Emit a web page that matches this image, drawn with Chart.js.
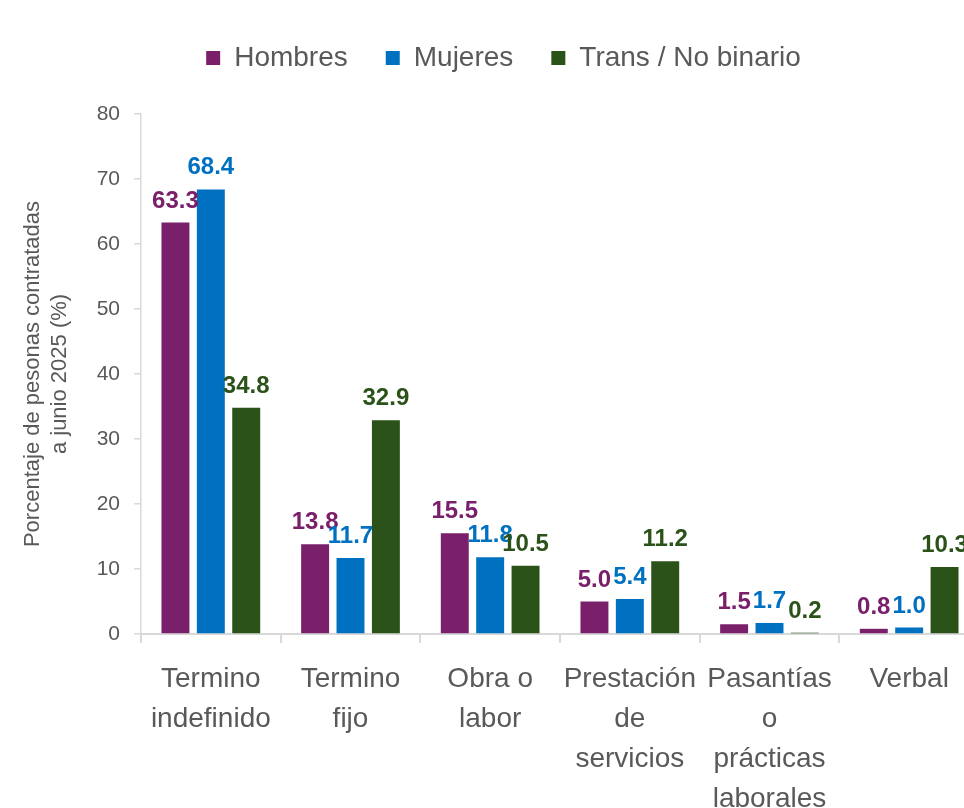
<!DOCTYPE html>
<html>
<head>
<meta charset="utf-8">
<script src="https://cdn.jsdelivr.net/npm/chart.js@4.4.1/dist/chart.umd.min.js"></script>
<style>
    html, body { margin: 0; padding: 0; background: #fff; overflow: hidden; }
    #wrap { width: 1000px; height: 808px; }
</style>
</head>
<body>
<div id="wrap"><canvas id="contractChart"></canvas></div>
<script>
// Tipo de contrato, porcentaje de personas contratadas a junio 2025
var categories = [
    ["Termino", "indefinido"],
    ["Termino", "fijo"],
    ["Obra o", "labor"],
    ["Prestación", "de", "servicios"],
    ["Pasantías", "o", "prácticas", "laborales"],
    ["Verbal"]
];
var hombres = [63.3, 13.8, 15.5, 5.0, 1.5, 0.8];
var mujeres = [68.4, 11.7, 11.8, 5.4, 1.7, 1.0];
var transNoBinario = [34.8, 32.9, 10.5, 11.2, 0.2, 10.3];
var yTicks = [0, 10, 20, 30, 40, 50, 60, 70, 80];

var FONT = "'Liberation Sans', Arial, sans-serif";
var GRAY = "#595959";
var AXIS = "#d9d9d9";

// simple value labels above each bar (no datalabels plugin available)
var valueLabels = {
    id: "valueLabels",
    afterDatasetsDraw: function (chart) {
        var ctx = chart.ctx;
        ctx.save();
        ctx.font = "bold 24px " + FONT;
        ctx.textAlign = "center";
        ctx.textBaseline = "alphabetic";
        chart.data.datasets.forEach(function (ds, i) {
            var meta = chart.getDatasetMeta(i);
            ctx.fillStyle = ds.backgroundColor;
            meta.data.forEach(function (bar, j) {
                ctx.fillText(ds.data[j].toFixed(1), bar.x, bar.y - 15);
            });
        });
        ctx.restore();
    }
};

// extra space under the legend, and nudge it a little to the right
var legendGap = {
    id: "legendGap",
    beforeInit: function (chart) {
        var fit = chart.legend.fit;
        chart.legend.fit = function () {
            fit.bind(chart.legend)();
            this.height += 32;
        };
    },
    afterLayout: function (chart) {
        chart.legend.left += 14;
        chart.legend.right += 14;
    }
};

var ctx = document.getElementById("contractChart").getContext("2d");

new Chart(ctx, {
    type: "bar",
    data: {
        labels: categories,
        datasets: [
            { label: "Hombres", data: hombres, backgroundColor: "#7a206b" },
            { label: "Mujeres", data: mujeres, backgroundColor: "#0070c0" },
            { label: "Trans / No binario", data: transNoBinario, backgroundColor: "#2b5219" }
        ]
    },
    options: {
        responsive: true,
        maintainAspectRatio: false,
        animation: false,
        datasets: {
            bar: { categoryPercentage: 0.76, barPercentage: 0.79 }
        },
        layout: { padding: { top: 6, right: 21, left: 0, bottom: 0 } },
        plugins: {
            legend: {
                position: "top",
                labels: {
                    boxWidth: 14,
                    boxHeight: 14,
                    padding: 38,
                    color: GRAY,
                    font: { family: FONT, size: 28 }
                }
            },
            tooltip: { enabled: false }
        },
        scales: {
            x: {
                afterFit: function (scale) { scale.height = 174; },
                grid: {
                    offset: true,
                    drawOnChartArea: false,
                    color: AXIS,
                    lineWidth: 2,
                    tickLength: 9
                },
                border: { color: AXIS, width: 2 },
                ticks: {
                    color: GRAY,
                    padding: 16,
                    maxRotation: 0,
                    autoSkip: false,
                    font: { family: FONT, size: 28, lineHeight: 1.43 }
                }
            },
            y: {
                min: 0,
                max: 80,
                afterFit: function (scale) { scale.width = 141; },
                afterBuildTicks: function (scale) {
                    scale.ticks = yTicks.map(function (v) { return { value: v }; });
                },
                grid: {
                    drawOnChartArea: false,
                    color: AXIS,
                    lineWidth: 1.5,
                    tickLength: 7
                },
                border: { color: AXIS, width: 1.5 },
                ticks: {
                    color: GRAY,
                    padding: 14,
                    font: { family: FONT, size: 21 }
                },
                title: {
                    display: true,
                    text: ["Porcentaje de pesonas contratadas", "a junio 2025 (%)"],
                    color: GRAY,
                    padding: { top: 19, bottom: 0 },
                    font: { family: FONT, size: 22, lineHeight: 1.23 }
                }
            }
        }
    },
    plugins: [valueLabels, legendGap]
});
</script>
</body>
</html>
